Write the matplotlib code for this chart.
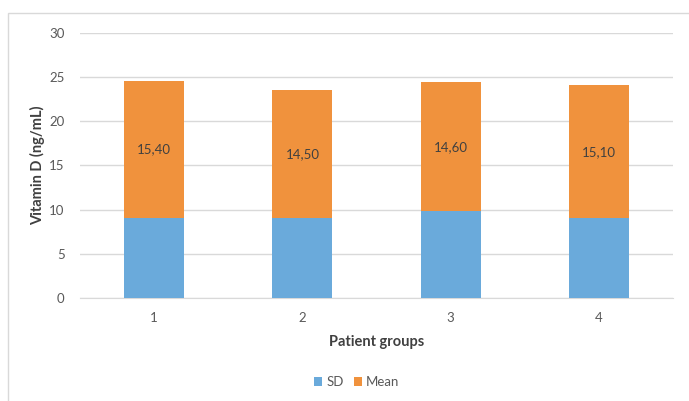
import matplotlib.pyplot as plt
from matplotlib.patches import Rectangle
import numpy as np

groups = ['1', '2', '3', '4']
sd_vals = [9.1, 9.0, 9.8, 9.0]
mean_vals = [15.40, 14.50, 14.60, 15.10]
mean_labels = ['15,40', '14,50', '14,60', '15,10']

plt.rcParams['font.family'] = ['Lato', 'DejaVu Sans']

fig = plt.figure(figsize=(6.89, 4.01), dpi=100)
ax = fig.add_axes([0.116, 0.257, 0.861, 0.661])

# outer chart frame
fig.patches.append(Rectangle((8 / 689, -0.01), 1.0, 1 - 13 / 401 + 0.01,
                             transform=fig.transFigure, fill=False,
                             edgecolor='#d9d9d9', linewidth=1.0))

x = np.arange(len(groups))
blue = '#6AAADB'
orange = '#F0923D'
ax.bar(x, sd_vals, width=0.405, color=blue, label='SD', zorder=3)
bars = ax.bar(x, mean_vals, width=0.405, bottom=sd_vals, color=orange,
              label='Mean', zorder=3)
for b, s, lab in zip(bars, sd_vals, mean_labels):
    ax.text(b.get_x() + b.get_width() / 2, s + b.get_height() / 2, lab,
            ha='center', va='center', fontsize=9.5, color='#404040', zorder=4)

ax.set_xlim(-0.5, 3.5)
ax.set_ylim(0, 30)
ax.set_yticks(range(0, 31, 5))
ax.set_xticks(x)
ax.set_xticklabels(groups)
ax.yaxis.grid(True, color='#d9d9d9', linewidth=1.0, zorder=0)
for side in ['top', 'right', 'left']:
    ax.spines[side].set_visible(False)
ax.spines['bottom'].set_color('#d9d9d9')
ax.tick_params(axis='both', length=0, labelsize=9.5, colors='#595959')
ax.tick_params(axis='x', pad=10)
ax.tick_params(axis='y', pad=11)

ax.set_xlabel('Patient groups', fontsize=10.5, fontweight='bold',
              color='#404040', labelpad=8)
ax.set_ylabel('Vitamin D (ng/mL)', fontsize=10.5, fontweight='bold',
              color='#404040', labelpad=3)

ax.legend(loc='center', bbox_to_anchor=(357 / 689, 19 / 401),
          bbox_transform=fig.transFigure, ncol=2, frameon=False,
          fontsize=9.5, handlelength=0.6, handleheight=0.6,
          handletextpad=0.3, columnspacing=0.8, labelcolor='#595959')

fig.savefig('out.png', dpi=100)
